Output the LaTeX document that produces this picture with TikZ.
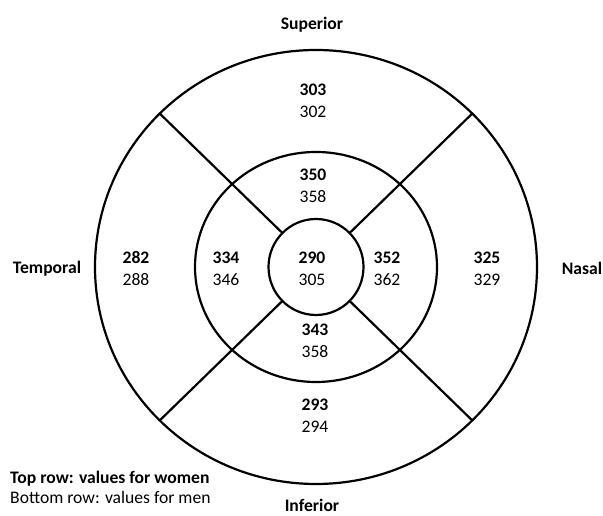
\documentclass[tikz,border=0pt]{standalone}
\usepackage{fontspec}
\setmainfont{Carlito}
\begin{document}
\begin{tikzpicture}[x=1pt,y=1pt,
    ring/.style={line width=2.2pt},
    women/.style={anchor=base,inner sep=0pt,font=\fontsize{17.6}{20}\selectfont\bfseries},
    men/.style={anchor=base,inner sep=0pt,font=\fontsize{17.6}{20}\selectfont},
    side/.style={anchor=base,inner sep=0pt,font=\fontsize{17.6}{20}\selectfont\bfseries}]
\useasboundingbox (0,0) rectangle (603,516);
\coordinate (c) at (316,249);
% rings
\draw[ring] (c) ellipse [x radius=221pt, y radius=217pt];
\draw[ring] (c) ellipse [x radius=121pt, y radius=115pt];
\draw[ring] (c) ellipse [x radius=47.5pt, y radius=48pt];
% sector borders
\foreach \a in {45,135,225,315} {
    \coordinate (in\a) at ([shift={(\a:47.5pt and 48pt)}]c);
    \coordinate (out\a) at ([shift={(\a:221pt and 217pt)}]c);
    \draw[ring] (in\a) -- (out\a);
}
% values: women on top, men below
\foreach \n/\x/\yw/\w/\m in {so/313/420.5/303/302, si/313/335.5/350/358,
    ce/312/252.5/290/305, ti/226/252.5/334/346, ni/387/252.5/352/362,
    to/136/252.5/282/288, no/487/252.5/325/329, ii/315/180.5/343/358,
    io/315/105.5/293/294} {
    \node[women] (\n w) at (\x,\yw) {\w};
    \node[men] (\n m) at (\x,\yw-22) {\m};
}
\node[side] (sup) at (312,486.5) {Superior};
\node[side] (inf) at (312,4) {Inferior};
\node[side] (temp) at (47,242) {Temporal};
\node[side] (nas) at (582,241) {Nasal};
\node[side,anchor=base west] (keyw) at (10,32.7) {Top row: values for women};
\node[men,anchor=base west] (keym) at (10,12) {Bottom row: values for men};
\end{tikzpicture}
\end{document}
